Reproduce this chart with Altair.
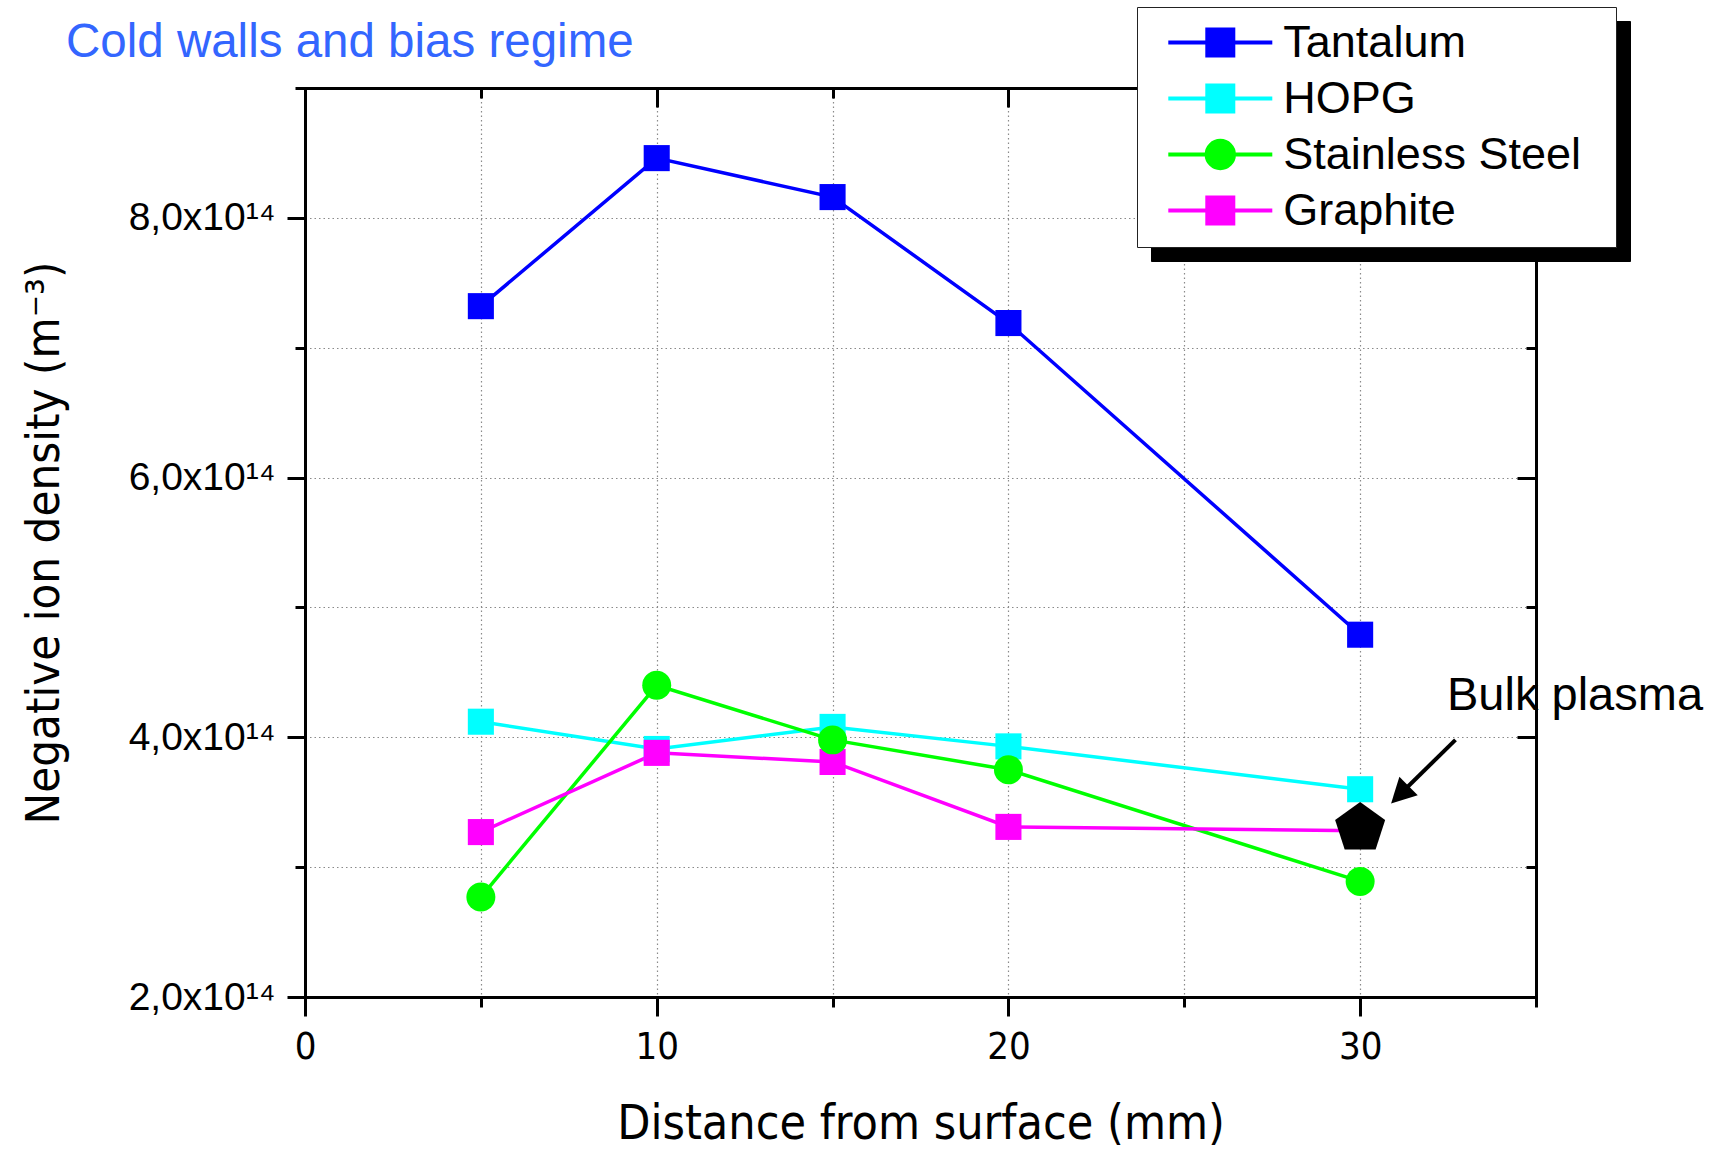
import altair as alt
import pandas as pd

# ---------------- data ----------------
series_names = ["Tantalum", "HOPG", "Stainless Steel", "Graphite"]
series_colors = ["#0000FF", "#00FFFF", "#00FF00", "#FF00FF"]
marker_shapes = ["square", "square", "circle", "square"]

distance_mm = [5, 10, 15, 20, 30]
tantalum = [7.32e14, 8.46e14, 8.16e14, 7.19e14, 4.79e14]
hopg = [4.12e14, 3.91e14, 4.08e14, 3.93e14, 3.60e14]
stainless_steel = [2.77e14, 4.40e14, 3.98e14, 3.75e14, 2.89e14]
graphite = [3.27e14, 3.88e14, 3.81e14, 3.31e14, 3.28e14]

bulk_x = [30]
bulk_y = [3.30e14]
bulk_text = ["Bulk plasma"]
bulk_text_x = [32.47]
bulk_text_y = [4.21e14]
arrow_x = [32.71]
arrow_y = [3.98e14]
arrow_x2 = [31.28]
arrow_y2 = [3.60e14]
arrow_tip_x = [30.88]
arrow_tip_y = [3.49e14]

x_major = [0, 10, 20, 30]
x_minor = [5, 15, 25, 35]
y_major = [2e14, 4e14, 6e14, 8e14]
y_minor = [3e14, 5e14, 7e14, 9e14]

# ---------------- tables ----------------
rows = []
for name, shp, vals in zip(series_names, marker_shapes,
                           [tantalum, hopg, stainless_steel, graphite]):
    for x, v in zip(distance_mm, vals):
        rows.append({"distance": x, "density": v, "series": name,
                     "shadow": name, "marker": shp})
df = pd.DataFrame(rows)
bulk_df = pd.DataFrame({"distance": bulk_x, "density": bulk_y})
text_df = pd.DataFrame({"distance": bulk_text_x, "density": bulk_text_y, "label": bulk_text})
arrow_df = pd.DataFrame({"distance": arrow_x, "density": arrow_y,
                         "distance2": arrow_x2, "density2": arrow_y2})
tip_df = pd.DataFrame({"distance": arrow_tip_x, "density": arrow_tip_y})

W, H = 1231, 909
SANS = "Liberation Sans, Arial, Helvetica, sans-serif"
NARROW = "Liberation Sans Narrow, Arial Narrow, DejaVu Sans Condensed, Liberation Sans, sans-serif"

xscale = alt.Scale(domain=[0, 35], nice=False, zero=False)
yscale = alt.Scale(domain=[2e14, 9e14], nice=False, zero=False)
color_scale = alt.Scale(domain=series_names, range=series_colors)


def axis(**kw):
    base = dict(domainColor="black", domainWidth=3, domainCap="square",
                tickColor="black", tickWidth=3,
                gridColor="#8a8a8a", gridDash=[1.5, 3], gridWidth=1.2,
                labels=False, title=None, grid=False, domain=False)
    base.update(kw)
    return alt.Axis(**base)


x_bottom_major = axis(orient="bottom", values=x_major, tickSize=19, domain=True, grid=True,
                      labels=True, labelFont=NARROW, labelFontSize=38, labelColor="black",
                      labelPadding=12, labelFlush=False, title="Distance from surface (mm)",
                      titleFont=NARROW, titleFontSize=48, titleFontWeight="normal",
                      titleColor="black", titlePadding=34)
x_bottom_minor = axis(orient="bottom", values=x_minor, tickSize=10, grid=True)
x_top_major = axis(orient="bottom", offset=-H, values=x_major, tickSize=19, domain=True, zindex=1)
x_top_minor = axis(orient="bottom", offset=-H, values=x_minor, tickSize=10, zindex=1)

y_label_expr = "replace(format(datum.value / 1e14, '.1f'), '.', ',') + 'x10\u00b9\u2074'"
y_left_major = axis(orient="left", values=y_major, tickSize=18, domain=True, grid=True,
                    labels=True, labelExpr=y_label_expr, labelFont=SANS, labelFontSize=39,
                    labelColor="black", labelPadding=12, labelFlush=False,
                    title="Negative ion density (m\u207b\u00b3)", titleFont=NARROW,
                    titleFontSize=47, titleFontWeight="normal", titleColor="black",
                    titlePadding=60)
y_left_minor = axis(orient="left", values=y_minor, tickSize=10, grid=True)
y_right_major = axis(orient="left", offset=-W, values=y_major, tickSize=19, domain=True, zindex=1)
y_right_minor = axis(orient="left", offset=-W, values=y_minor, tickSize=10, zindex=1)

# legend symbols: line stub + marker; the trailing move-to only widens the legend box
square_path = "M-4,0H-1M1,0H4M-1,-1H1V1H-1ZM28.8,0"
circle_path = "M-4,0H-1.05M1.05,0H4M-1.05,0A1.05,1.05 0 1,0 1.05,0A1.05,1.05 0 1,0 -1.05,0ZM28.8,0"
shape_expr = f"datum.value === 'Stainless Steel' ? '{circle_path}' : '{square_path}'"
color_expr = "scale('color', datum.value)"

legend_common = dict(orient="none", title=None, padding=13, labelFont=SANS, labelFontSize=45,
                     labelColor="black", labelLimit=600, rowPadding=10,
                     symbolOffset=47.8, labelOffset=40.5, symbolSize=676,
                     symbolStrokeWidth=4, symbolOpacity=1)

main_legend = alt.Legend(
    legendX=832, legendY=-81, fillColor="white", strokeColor="#222222", zindex=3,
    symbolType=alt.ExprRef(expr=shape_expr),
    symbolFillColor=alt.ExprRef(expr=color_expr),
    symbolStrokeColor=alt.ExprRef(expr=color_expr),
    **legend_common,
)

shadow_legend = alt.Legend(
    legendX=846, legendY=-67, fillColor="black", strokeColor="black", zindex=2,
    symbolType=square_path, symbolFillColor="black", symbolStrokeColor="black",
    labelExpr="''",
    **legend_common,
)

lines = alt.Chart(df).mark_line(strokeWidth=3.5).encode(
    x=alt.X("distance:Q", scale=xscale, axis=x_bottom_major),
    y=alt.Y("density:Q", scale=yscale, axis=y_left_major),
    color=alt.Color("series:N", scale=color_scale, legend=main_legend),
    opacity=alt.Opacity("shadow:N", scale=alt.Scale(range=[1, 1]), legend=shadow_legend),
    detail="series:N",
)

squares = alt.Chart(df).transform_filter(alt.datum.marker == "square").mark_point(
    shape="square", size=680, filled=True, opacity=1,
).encode(
    x=alt.X("distance:Q", scale=xscale, axis=x_bottom_minor),
    y=alt.Y("density:Q", scale=yscale, axis=y_left_minor),
    color=alt.Color("series:N", scale=color_scale, legend=None),
)

circles = alt.Chart(df).transform_filter(alt.datum.marker == "circle").mark_point(
    shape="circle", size=840, filled=True, opacity=1,
).encode(
    x=alt.X("distance:Q", scale=xscale, axis=None),
    y=alt.Y("density:Q", scale=yscale, axis=None),
    color=alt.Color("series:N", scale=color_scale, legend=None),
)

pentagon = alt.Chart(bulk_df).mark_point(
    shape="M0,-1L0.951,-0.309L0.588,0.809L-0.588,0.809L-0.951,-0.309Z",
    size=2767, filled=True, color="black", opacity=1,
).encode(
    x=alt.X("distance:Q", scale=xscale, axis=x_top_major),
    y=alt.Y("density:Q", scale=yscale, axis=y_right_major),
)

arrow = alt.Chart(arrow_df).mark_rule(color="black", strokeWidth=4).encode(
    x=alt.X("distance:Q", scale=xscale, axis=x_top_minor),
    y=alt.Y("density:Q", scale=yscale, axis=y_right_minor),
    x2="distance2:Q",
    y2="density2:Q",
)

arrow_head = alt.Chart(tip_df).mark_point(
    shape="M0,0L1,1.9L-1,1.9Z", size=676, filled=True, color="black", opacity=1, angle=225,
).encode(
    x=alt.X("distance:Q", scale=xscale, axis=None),
    y=alt.Y("density:Q", scale=yscale, axis=None),
)

label = alt.Chart(text_df).mark_text(
    align="left", baseline="alphabetic", fontSize=47, font=SANS, color="black",
).encode(
    x=alt.X("distance:Q", scale=xscale, axis=None),
    y=alt.Y("density:Q", scale=yscale, axis=None),
    text="label:N",
)

chart = alt.layer(lines, squares, circles, pentagon, arrow, arrow_head, label).resolve_axis(
    x="independent", y="independent"
).properties(
    width=W,
    height=H,
    autosize=alt.AutoSizeParams(type="none"),
    padding={"left": 305, "top": 88, "right": 185, "bottom": 152},
    title=alt.TitleParams(
        "Cold walls and bias regime", anchor="start", frame="group",
        font=SANS, fontSize=47.5, fontWeight="normal", color="#3366FF",
        baseline="alphabetic", dx=-239, dy=98, offset=0,
    ),
    background="white",
).configure_view(strokeWidth=0)

chart.save("out.html", embed_options={"renderer": "svg", "actions": False})
